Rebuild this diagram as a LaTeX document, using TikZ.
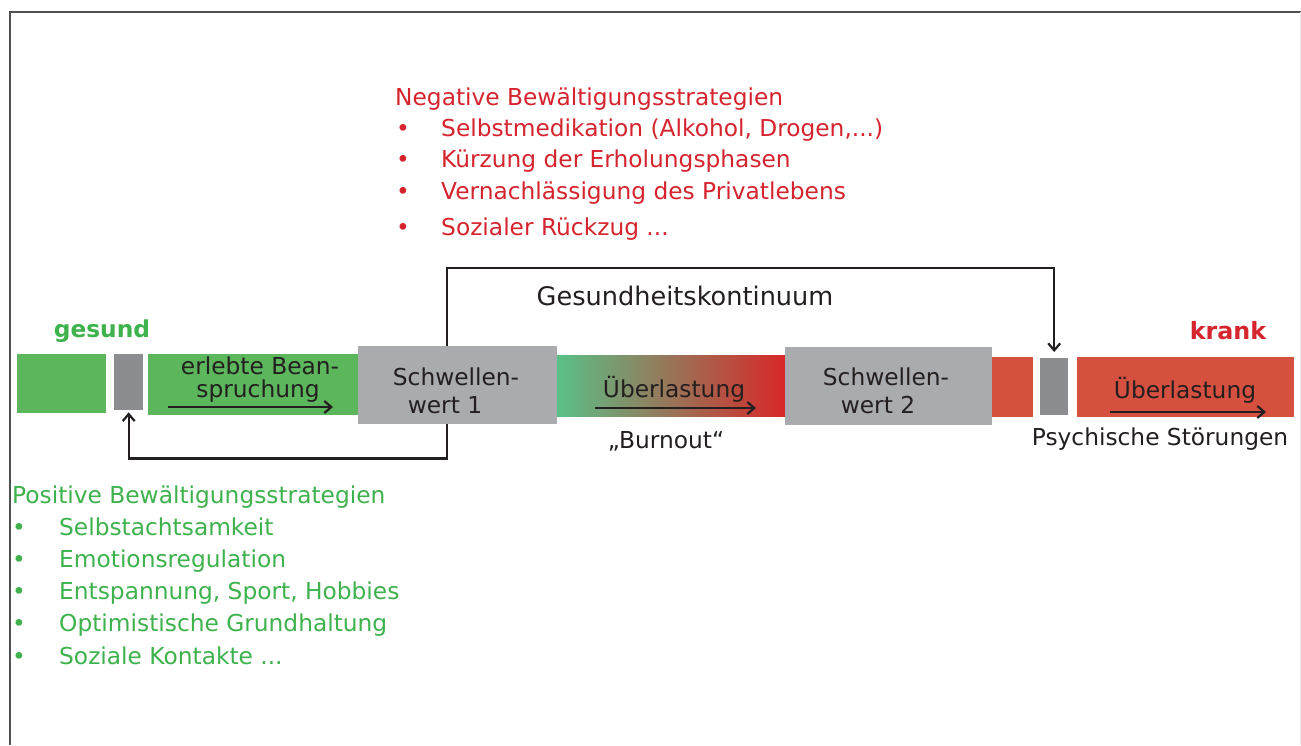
\documentclass[tikz,border=0pt]{standalone}
\usepackage{fontspec}
\setmainfont{DejaVu Sans}
\usetikzlibrary{arrows.meta}
\definecolor{barGreen}{RGB}{92,182,92}
\definecolor{txtGreen}{RGB}{62,178,76}
\definecolor{txtRed}{RGB}{214,36,46}
\definecolor{barRed}{RGB}{214,80,64}
\definecolor{darkGray}{RGB}{140,141,145}
\definecolor{lightGray}{RGB}{170,171,175}
\definecolor{gradGreen}{RGB}{90,192,135}
\definecolor{gradMid}{RGB}{152,150,95}
\definecolor{gradRed}{RGB}{216,40,40}
\definecolor{txt}{RGB}{35,31,32}
\definecolor{frameGray}{RGB}{80,80,80}
\begin{document}
\begin{tikzpicture}[x=1pt,y=1pt,
  font=\fontsize{23.3}{27}\selectfont,
  blk/.style={draw=none,inner sep=0pt,anchor=north west},
  lbl/.style={inner sep=0pt,text=txt,align=center},
  arr/.style={draw=txt,line width=2.2pt,-{Straight Barb[length=7pt,width=12pt,line width=2.2pt]}},
  li/.style={inner sep=0pt,anchor=base west}]
\useasboundingbox (0,0) rectangle (1301,-745);
\fill[white] (0,0) rectangle (1301,-745);
% frame
\draw[frameGray,line width=2pt] (10,-745) -- (10,-12) -- (1301,-12);
\draw[black!8,line width=1pt] (1300,-12) -- (1300,-745);

% bar blocks
\node[blk,fill=barGreen,minimum width=89,minimum height=59] (g1) at (17,-354) {};
\node[blk,fill=darkGray,minimum width=29,minimum height=56] (sg1) at (114,-354) {};
\node[blk,fill=barGreen,minimum width=210,minimum height=61] (g2) at (148,-354) {};
\node[blk,fill=lightGray,minimum width=199,minimum height=78] (s1) at (358,-346) {};
\node[blk,left color=gradGreen,middle color=gradMid,right color=gradRed,minimum width=228,minimum height=61] (gr) at (557,-355) {};
\node[blk,fill=lightGray,minimum width=207,minimum height=78] (s2) at (785,-347) {};
\node[blk,fill=barRed,minimum width=41,minimum height=60] (r1) at (992,-357) {};
\node[blk,fill=darkGray,minimum width=28,minimum height=57] (sg2) at (1040,-358) {};
\node[blk,fill=barRed,minimum width=217,minimum height=60] (r2) at (1077,-357) {};

% texts in bar
\node[lbl] (t1a) at (260,-366) {erlebte Bean-};
\node[lbl] (t1b) at (258,-391) {spruchung};
\node[lbl] (t2a) at (456,-377) {Schwellen-};
\node[lbl] (t2b) at (445,-405) {wert 1};
\node[lbl] (t3) at (674,-389) {Überlastung};
\node[lbl] (t4a) at (886,-377) {Schwellen-};
\node[lbl] (t4b) at (878,-405) {wert 2};
\node[lbl] (t5) at (1185,-390) {Überlastung};

% inner arrows
\coordinate (a1s) at (168,-407); \coordinate (a1e) at (333,-407);
\coordinate (a2s) at (595,-408); \coordinate (a2e) at (756,-408);
\coordinate (a3s) at (1110,-412); \coordinate (a3e) at (1266,-412);
\draw[arr] (a1s) -- (a1e);
\draw[arr] (a2s) -- (a2e);
\draw[arr] (a3s) -- (a3e);

% labels around
\node[lbl,text=txtGreen,font=\fontsize{23.3}{27}\selectfont\bfseries] (ges) at (102,-331) {gesund};
\node[lbl,text=txtRed,font=\fontsize{23.8}{27}\selectfont\bfseries] (kr) at (1228,-331) {krank};
\node[lbl,font=\fontsize{25.6}{30}\selectfont] (gk) at (685,-296) {Gesundheitskontinuum};
\node[lbl] (bo) at (666,-441) {„Burnout“};
\node[lbl] (ps) at (1160,-439) {Psychische Störungen};

% connectors
\draw[arr] ([xshift=-10.5]s1.north) -- ++(0,78) -| ([yshift=6]sg2.north);
\draw[arr] ([xshift=-10.5]s1.south) -- ++(0,-34) -| ([yshift=-2]sg1.south);

% negative list
\begin{scope}[text=txtRed]
\node[li] (n0) at (395,-105) {Negative Bewältigungsstrategien};
\node[li] (nb1) at (396,-136) {•}; \node[li] (n1) at (441,-136) {Selbstmedikation (Alkohol, Drogen,...)};
\node[li] (nb2) at (396,-167) {•}; \node[li] (n2) at (441,-167) {Kürzung der Erholungsphasen};
\node[li] (nb3) at (396,-199) {•}; \node[li] (n3) at (441,-199) {Vernachlässigung des Privatlebens};
\node[li] (nb4) at (396,-235) {•}; \node[li] (n4) at (441,-235) {Sozialer Rückzug ...};
\end{scope}

% positive list
\begin{scope}[text=txtGreen]
\node[li] (p0) at (12,-503) {Positive Bewältigungsstrategien};
\node[li] (pb1) at (12,-535) {•}; \node[li] (p1) at (59,-535) {Selbstachtsamkeit};
\node[li] (pb2) at (12,-567) {•}; \node[li] (p2) at (59,-567) {Emotionsregulation};
\node[li] (pb3) at (12,-599) {•}; \node[li] (p3) at (59,-599) {Entspannung, Sport, Hobbies};
\node[li] (pb4) at (12,-631) {•}; \node[li] (p4) at (59,-631) {Optimistische Grundhaltung};
\node[li] (pb5) at (12,-664) {•}; \node[li] (p5) at (59,-664) {Soziale Kontakte ...};
\end{scope}
\end{tikzpicture}
\end{document}
